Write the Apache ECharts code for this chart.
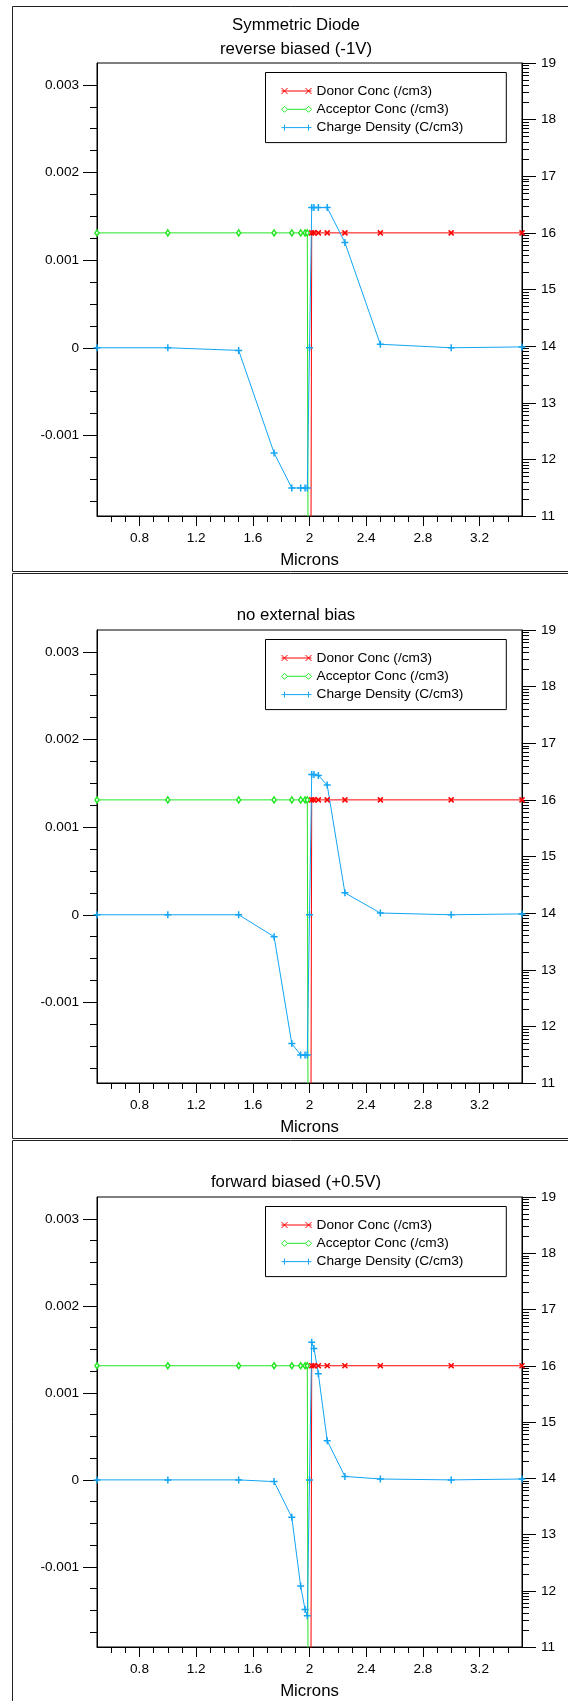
<!DOCTYPE html>
<html>
<head>
<meta charset="utf-8">
<title>Symmetric Diode</title>
<script src="https://cdn.jsdelivr.net/npm/echarts@6/dist/echarts.min.js"></script>
<style>
    html, body { margin: 0; padding: 0; background: #fff; }
    #chart { width: 568px; height: 1701px; }
</style>
</head>
<body>
<div id="chart"></div>
<script>
// 数据
var panelTitles = ['Symmetric Diode\nreverse biased (-1V)', 'no external bias', 'forward biased (+0.5V)'];
var seriesNames = ['Donor Conc (/cm3)', 'Acceptor Conc (/cm3)', 'Charge Density (C/cm3)'];

var acceptorX = [0.5, 1.0, 1.5, 1.75, 1.875, 1.9375, 1.96875, 1.984375, 2.0];
var acceptorConc = [1e16, 1e16, 1e16, 1e16, 1e16, 1e16, 1e16, 1e16, 1];
var donorX = [2.0, 2.015625, 2.03125, 2.0625, 2.125, 2.25, 2.5, 3.0, 3.5];
var donorConc = [1, 1e16, 1e16, 1e16, 1e16, 1e16, 1e16, 1e16, 1e16];

var chargeX = [0.5, 1.0, 1.5, 1.75, 1.875, 1.9375, 1.96875, 1.984375, 2.0,
    2.015625, 2.03125, 2.0625, 2.125, 2.25, 2.5, 3.0, 3.5];
var chargeReverse = [0, 0, -0.00003, -0.0012, -0.0016, -0.0016, -0.0016, -0.0016, 0,
    0.0016, 0.0016, 0.0016, 0.0016, 0.0012, 0.00004, 0, 0.00001];
var chargeZero = [0, 0, 0, -0.00025, -0.00147, -0.0016, -0.0016, -0.0016, 0,
    0.0016, 0.0016, 0.00159, 0.00148, 0.00025, 0.00002, 0, 0.00001];
var chargeForward = [0, 0, 0, -0.00002, -0.00043, -0.00122, -0.00149, -0.00156, 0,
    0.00158, 0.00151, 0.00122, 0.00045, 0.00004, 0.00001, 0, 0.00001];
var chargeSets = [chargeReverse, chargeZero, chargeForward];

// 刻度
var xTicks = [0.8, 1.2, 1.6, 2, 2.4, 2.8, 3.2];
var leftTicks = [-0.001, 0, 0.001, 0.002, 0.003];
var rightTicks = [11, 12, 13, 14, 15, 16, 17, 18, 19];

var xMinor = [];
for (var i = 6; i <= 34; i++) {
    if ((i - 8) % 4 !== 0) xMinor.push(i / 10);
}
var leftMinor = [];
for (var j = -7; j <= 11; j++) {
    if (j % 4 !== 0) leftMinor.push(j / 4000);
}
var rightMinor = [];
for (var n = 11; n < 19; n++) {
    for (var k = 2; k <= 9; k++) rightMinor.push(n + Math.log10(k));
}

var red = '#ff0000';
var green = '#22e622';
var blue = '#12a5f4';
var font = '"Liberation Sans", Arial, sans-serif';
var offsets = [0, 567, 1134];

function zip(xs, ys, fn) {
    var out = [];
    for (var i = 0; i < xs.length; i++) out.push([xs[i], fn ? fn(ys[i]) : ys[i]]);
    return out;
}

function tickAxis(extra) {
    var base = {
        type: 'value',
        axisLine: { show: false, onZero: false, lineStyle: { color: '#000' } },
        axisLabel: { show: false },
        splitLine: { show: false }
    };
    return Object.assign(base, extra);
}

var option = {
    animation: false,
    textStyle: { fontFamily: font },
    title: [], legend: [], grid: [], xAxis: [], yAxis: [], series: [], graphic: []
};

for (var p = 0; p < 3; p++) {
    var off = offsets[p];

    option.graphic.push({
        type: 'rect', silent: true, z: -1,
        shape: { x: 12.5, y: off + 6.5, width: 620, height: 565 },
        style: { fill: 'none', stroke: '#222', lineWidth: 1 }
    });

    option.title.push({
        text: panelTitles[p],
        left: 296, top: off + (p === 0 ? 14 : 37),
        textAlign: 'center', padding: 0,
        textStyle: { fontSize: 16.8, fontWeight: 'normal', color: '#000', lineHeight: 23.3, fontFamily: font }
    });

    option.grid.push({
        left: 97, top: off + 63, width: 425, height: 453,
        show: true, borderColor: '#000', borderWidth: 1
    });

    // x 轴
    option.xAxis.push(tickAxis({
        gridIndex: p, position: 'bottom', min: 0.5, max: 3.5,
        name: 'Microns', nameLocation: 'middle', nameGap: 36,
        nameTextStyle: { fontSize: 16.8, color: '#000', fontFamily: font },
        axisLine: { show: true, onZero: false, lineStyle: { color: '#000' } },
        axisTick: { customValues: xTicks, length: 10, lineStyle: { color: '#000' } },
        axisLabel: { show: true, customValues: xTicks, margin: 15, fontSize: 13.6, color: '#000', fontFamily: font }
    }));
    option.xAxis.push(tickAxis({
        gridIndex: p, position: 'bottom', min: 0.5, max: 3.5,
        axisTick: { customValues: xMinor, length: 6, lineStyle: { color: '#000' } }
    }));

    // 左轴 (C/cm3)
    option.yAxis.push(tickAxis({
        gridIndex: p, position: 'left', min: -0.00192, max: 0.00325,
        axisLine: { show: true, onZero: false, lineStyle: { color: '#000' } },
        axisTick: { customValues: leftTicks, length: 14, lineStyle: { color: '#000' } },
        axisLabel: { show: true, customValues: leftTicks, margin: 18, fontSize: 13.6, color: '#000', fontFamily: font }
    }));
    option.yAxis.push(tickAxis({
        gridIndex: p, position: 'left', min: -0.00192, max: 0.00325,
        axisTick: { customValues: leftMinor, length: 7, lineStyle: { color: '#000' } }
    }));

    // 右轴 (log10 /cm3)
    option.yAxis.push(tickAxis({
        gridIndex: p, position: 'right', min: 11, max: 19,
        axisLine: { show: true, onZero: false, lineStyle: { color: '#000' } },
        axisTick: { customValues: rightTicks, length: 14, lineStyle: { color: '#000' } },
        axisLabel: { show: true, customValues: rightTicks, margin: 19, fontSize: 13.6, color: '#000', fontFamily: font }
    }));
    option.yAxis.push(tickAxis({
        gridIndex: p, position: 'right', min: 11, max: 19,
        axisTick: { customValues: rightMinor, length: 7, lineStyle: { color: '#000' } }
    }));

    option.legend.push({
        orient: 'vertical', left: 265.5, top: off + 72.5,
        padding: [11.5, 43, 8, 13.5],
        itemWidth: 30, itemHeight: 6, itemGap: 4.3, itemTextGap: 12.7,
        borderColor: '#000', borderWidth: 1, backgroundColor: '#fff',
        selectedMode: false,
        textStyle: { fontSize: 13.7, color: '#000', lineHeight: 14, fontFamily: font },
        data: [
            { name: seriesNames[0], icon: 'path://M0,3 L30,3 M0,0 L6,6 M0,6 L6,0 M24,0 L30,6 M24,6 L30,0',
              itemStyle: { color: 'none', borderColor: red, borderWidth: 1 } },
            { name: seriesNames[1], icon: 'path://M0,3 L3,0 L6,3 L3,6 Z M6,3 L24,3 M24,3 L27,0 L30,3 L27,6 Z',
              itemStyle: { color: 'none', borderColor: green, borderWidth: 1 } },
            { name: seriesNames[2], icon: 'path://M0,3 L30,3 M3,0 L3,6 M27,0 L27,6',
              itemStyle: { color: 'none', borderColor: blue, borderWidth: 1 } }
        ]
    });

    option.series.push({
        name: seriesNames[0], type: 'line', xAxisIndex: 2 * p, yAxisIndex: 4 * p + 2,
        data: zip(donorX, donorConc, Math.log10),
        symbol: 'path://M0,0 L6,6 M0,6 L6,0', symbolSize: 5, showAllSymbol: true,
        lineStyle: { color: red, width: 1 },
        itemStyle: { color: 'none', borderColor: red, borderWidth: 1.5 }
    });
    option.series.push({
        name: seriesNames[1], type: 'line', xAxisIndex: 2 * p, yAxisIndex: 4 * p + 2,
        data: zip(acceptorX, acceptorConc, Math.log10),
        symbol: 'path://M3,0 L6,4 L3,8 L0,4 Z', symbolSize: [4, 6], showAllSymbol: true,
        lineStyle: { color: green, width: 1 },
        itemStyle: { color: '#fff', borderColor: green, borderWidth: 1.5 }
    });
    option.series.push({
        name: seriesNames[2], type: 'line', xAxisIndex: 2 * p, yAxisIndex: 4 * p,
        data: zip(chargeX, chargeSets[p]),
        symbol: 'path://M3,0 L3,6 M0,3 L6,3', symbolSize: 7, showAllSymbol: true,
        lineStyle: { color: blue, width: 1 },
        itemStyle: { color: 'none', borderColor: blue, borderWidth: 1.5 }
    });
}

var chart = echarts.init(document.getElementById('chart'), null, { renderer: 'canvas' });
chart.setOption(option);
</script>
</body>
</html>
